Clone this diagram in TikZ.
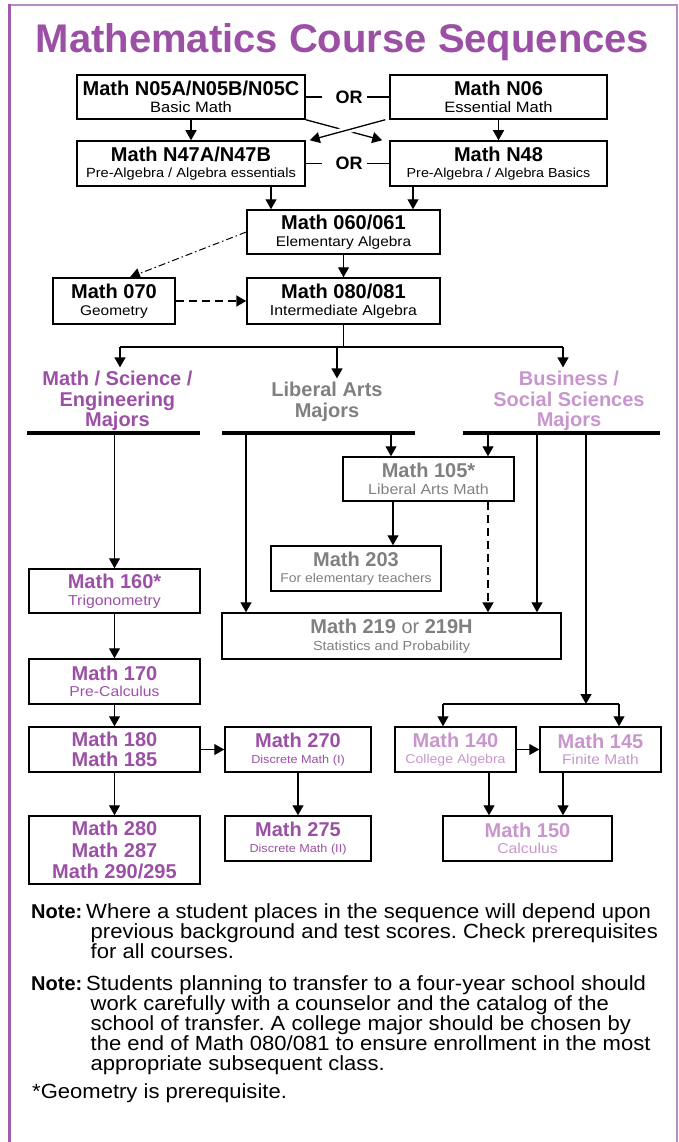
\documentclass[tikz,border=0pt]{standalone}
\usepackage{fontspec}
\setmainfont{Liberation Sans}
\newfontfamily\subfont[FakeStretch=1.1]{Liberation Sans}
\newfontfamily\notefont[FakeStretch=1.075]{Liberation Sans}
\usetikzlibrary{arrows.meta,calc}
\definecolor{mpurple}{RGB}{155,80,166}
\definecolor{lpurple}{RGB}{200,150,205}
\definecolor{mgray}{RGB}{128,128,128}
\definecolor{framedark}{RGB}{160,90,172}
\definecolor{framelight}{RGB}{185,140,200}
\newcommand\hd[1]{{\fontsize{20}{16}\selectfont\bfseries #1}}
\newcommand\sbt[2][14]{{\subfont\fontsize{#1}{16}\selectfont #2}}
\frenchspacing
\begin{document}
\begin{tikzpicture}[x=1pt,y=-1pt,
  box/.style={draw, line width=1.5pt, inner sep=0pt, align=center, font=\fontsize{14}{16.5}\selectfont},
  ln/.style={line width=1.3pt},
  arr/.style={line width=1.3pt, -{Triangle[length=10pt,width=11pt]}},
  dasharr/.style={line width=2pt, dash pattern=on 8pt off 5pt, -{Triangle[length=10pt,width=11pt]}},
  dashdotarr/.style={line width=1pt, dash pattern=on 7pt off 3pt on 1.5pt off 3pt, -{Triangle[length=10pt,width=11pt]}},
  ortext/.style={font=\fontsize{18}{18}\selectfont\bfseries, inner sep=4pt},
  head/.style={font=\fontsize{20}{20.5}\selectfont\bfseries, align=center, inner sep=0pt, outer sep=4pt, anchor=north},
  bar/.style={line width=3.5pt},
  notes/.style={font=\notefont\fontsize{20.5}{20}\selectfont, align=left, inner sep=0pt, anchor=north west},
  notelabel/.style={font=\fontsize{20}{20}\selectfont\bfseries, inner sep=0pt, anchor=base west}
]
\useasboundingbox (0,0) rectangle (678,1142);
% frame
\draw[line width=2pt, framelight] (8,5) -- (676.5,5) -- (676.5,1142);
\draw[line width=3pt, framedark] (9.5,4) -- (9.5,1142);

% title
\node[font=\fontsize{40}{40}\selectfont\bfseries, text=mpurple, anchor=base, inner sep=0pt] (title) at (342.5,53) {Mathematics Course Sequences};

% top rows
\node[box, minimum width=228pt, minimum height=44pt] (n05) at (191,97) {\hd{Math N05A/N05B/N05C}\\\sbt[15]{Basic Math}};
\node[box, minimum width=217pt, minimum height=44pt] (n06) at (498.5,97) {\hd{Math N06}\\\sbt[15]{Essential Math}};
\node[box, minimum width=228pt, minimum height=45pt] (n47) at (191,163.5) {\hd{Math N47A/N47B}\\\sbt[13.3]{Pre-Algebra / Algebra essentials}};
\node[box, minimum width=217pt, minimum height=45pt] (n48) at (498.5,163.5) {\hd{Math N48}\\\sbt[13]{Pre-Algebra / Algebra Basics}};
\node[ortext] (or1) at (349,97) {OR};
\node[ortext] (or2) at (349,163.5) {OR};

\node[box, minimum width=193pt, minimum height=44pt] (b060) at (343.5,232) {\hd{Math 060/061}\\\sbt[14]{Elementary Algebra}};
\node[box, minimum width=122pt, minimum height=46pt] (b070) at (114,301) {\hd{Math 070}\\\sbt[14]{Geometry}};
\node[box, minimum width=193pt, minimum height=46pt] (b080) at (343.5,301) {\hd{Math 080/081}\\\sbt[14.4]{Intermediate Algebra}};

% majors headings
\node[head, text=mpurple] (hMS) at (117.4,367.4) {Math / Science /\\Engineering\\Majors};
\node[head, text=mgray] (hLA) at (327,378.4) {Liberal Arts\\Majors};
\node[head, text=lpurple] (hBS) at (569,367.4) {Business /\\Social Sciences\\Majors};

% lower boxes
\node[box, text=mgray, minimum width=171pt, minimum height=44pt] (b105) at (428.5,479) {\hd{Math 105*}\\\sbt[14.5]{Liberal Arts Math}};
\node[box, text=mgray, minimum width=170pt, minimum height=45pt] (b203) at (356,568.5) {\hd{Math 203}\\\sbt[12.7]{For elementary teachers}};
\node[box, text=mpurple, minimum width=171pt, minimum height=44pt] (b160) at (114.5,591) {\hd{Math 160*}\\\sbt[14.4]{Trigonometry}};
\node[box, text=mgray, minimum width=339pt, minimum height=46pt] (b219) at (391.5,636) {\hd{Math 219 {\mdseries or} 219H}\\\sbt[13.1]{Statistics and Probability}};
\node[box, text=mpurple, minimum width=171pt, minimum height=45pt] (b170) at (114.5,681.5) {\hd{Math 170}\\\sbt[14.3]{Pre-Calculus}};
\node[box, text=mpurple, minimum width=171pt, minimum height=45pt, font=\fontsize{14}{20}\selectfont] (b180) at (114.5,749.5) {\hd{Math 180}\\\hd{Math 185}};
\node[box, text=mpurple, minimum width=146pt, minimum height=45pt] (b270) at (298,749.5) {\hd{Math 270}\\\sbt[11.5]{Discrete Math (I)}};
\node[box, text=lpurple, minimum width=121pt, minimum height=45pt] (b140) at (455.5,749.5) {\hd{Math 140}\\\sbt[12.8]{College Algebra}};
\node[box, text=lpurple, minimum width=121pt, minimum height=45pt] (b145) at (600.5,749.5) {\hd{Math 145}\\\sbt[14.1]{Finite Math}};
\node[box, text=mpurple, minimum width=171pt, minimum height=68pt, font=\fontsize{14}{21.3}\selectfont] (b280) at (114.5,850) {\hd{Math 280}\\\hd{Math 287}\\\hd{Math 290/295}};
\node[box, text=mpurple, minimum width=146pt, minimum height=45pt] (b275) at (298,838.5) {\hd{Math 275}\\\sbt[11.5]{Discrete Math (II)}};
\node[box, text=lpurple, minimum width=169pt, minimum height=45pt] (b150) at (527.5,838.5) {\hd{Math 150}\\\sbt[14.3]{Calculus}};

% connectors: top
\draw[ln] (n05.east) -- ($(or1.west)+(-9,0)$);
\draw[ln] (or1.east) -- (n06.west);
\draw[ln] (n47.east) -- ($(or2.west)+(-9,0)$);
\draw[ln] (or2.east) -- (n48.west);
\draw[arr] (n05) -- (n47);
\draw[arr] (n06) -- (n48);
\draw[arr] (n05.south east) -- ($(n48.north west)+(-7,0)$);
\draw[white, line width=7pt, shorten <=26pt, shorten >=26pt] ($(n06.south west)+(-4,0)$) -- ($(n47.north east)+(4,0)$);
\draw[arr] ($(n06.south west)+(-4,0)$) -- ($(n47.north east)+(4,0)$);
\coordinate (c1) at ($(n47.south)+(80,0)$);
\coordinate (c2) at ($(n48.south)+(-85.5,0)$);
\draw[arr] (c1) -- (c1 |- b060.north);
\draw[arr] (c2) -- (c2 |- b060.north);
\draw[arr] (b060) -- (b080);
\draw[dashdotarr] (b060.west) -- ($(b070.north)+(16,0)$);
\draw[dasharr] (b070) -- (b080);

% fork to majors
\coordinate (fk) at ($(b080.south)+(0,23)$);
\coordinate (fL) at (120,347);
\coordinate (fM) at (337,347);
\coordinate (fR) at (563,347);
\draw[ln] (b080.south) -- (fk);
\draw[ln] (fL) -- (fR);
\draw[arr] (fL) -- (fL |- hMS.north);
\draw[arr] (fM) -- (fM |- hLA.north);
\draw[arr] (fR) -- (fR |- hBS.north);

% bars
\coordinate (barLa) at (27,433);  \coordinate (barLb) at (200,433);
\coordinate (barMa) at (222,433); \coordinate (barMb) at (415,433);
\coordinate (barRa) at (463,433); \coordinate (barRb) at (660,433);
\draw[bar] (barLa) -- (barLb);
\draw[bar] (barMa) -- (barMb);
\draw[bar] (barRa) -- (barRb);

% from bars
\draw[arr] (b160.north |- barLa) -- (b160.north);
\coordinate (m1) at (246,433);
\coordinate (m2) at (391,433);
\coordinate (r1) at (488,433);
\coordinate (r2) at (537,433);
\coordinate (r3) at (586,433);
\draw[arr] (m1) -- (m1 |- b219.north);
\draw[arr] (m2) -- (m2 |- b105.north);
\draw[arr] (r1) -- (r1 |- b105.north);
\draw[arr] (r2) -- (r2 |- b219.north);
\coordinate (r3f) at (586,704);
\draw[arr] (r3) -- (r3f);
\coordinate (g1) at (443,704);
\coordinate (g2) at (619,704);
\draw[ln] (g1) -- (g2);
\draw[arr] (g1) -- (g1 |- b140.north);
\draw[arr] (g2) -- (g2 |- b145.north);

% liberal arts internal
\coordinate (k1) at ($(b105.south)+(-35.5,0)$);
\coordinate (k2) at ($(b105.south)+(59.5,0)$);
\draw[arr] (k1) -- (k1 |- b203.north);
\draw[dasharr] (k2) -- (k2 |- b219.north);

% math/science chain
\draw[arr] (b160) -- (b170);
\draw[arr] (b170) -- (b180);
\draw[arr] (b180) -- (b280);
\draw[arr] (b180) -- (b270);
\draw[arr] (b270) -- (b275);

% business chain
\draw[arr] (b140) -- (b145);
\coordinate (p1) at ($(b140.south)+(33.5,0)$);
\coordinate (p2) at ($(b145.south)+(-37.5,0)$);
\draw[arr] (p1) -- (p1 |- b150.north);
\draw[arr] (p2) -- (p2 |- b150.north);

% notes
\node[notelabel] (nl1) at (31,918) {Note:};
\node[notes] (note1) at (90.5,903.1) {\hspace*{-4.5pt}Where a student places in the sequence will depend upon\\previous background and test scores. Check prerequisites\\for all courses.};
\node[notelabel] (nl2) at (31,990) {Note:};
\node[notes] (note2) at (90.5,975.1) {\hspace*{-4.5pt}Students planning to transfer to a four-year school should\\work carefully with a counselor and the catalog of the\\school of transfer. A college major should be chosen by\\the end of Math 080/081 to ensure enrollment in the most\\appropriate subsequent class.};
\node[font=\notefont\fontsize{20.5}{20}\selectfont, inner sep=0pt, anchor=base west] (foot) at (32,1098) {*Geometry is prerequisite.};
\end{tikzpicture}
\end{document}
